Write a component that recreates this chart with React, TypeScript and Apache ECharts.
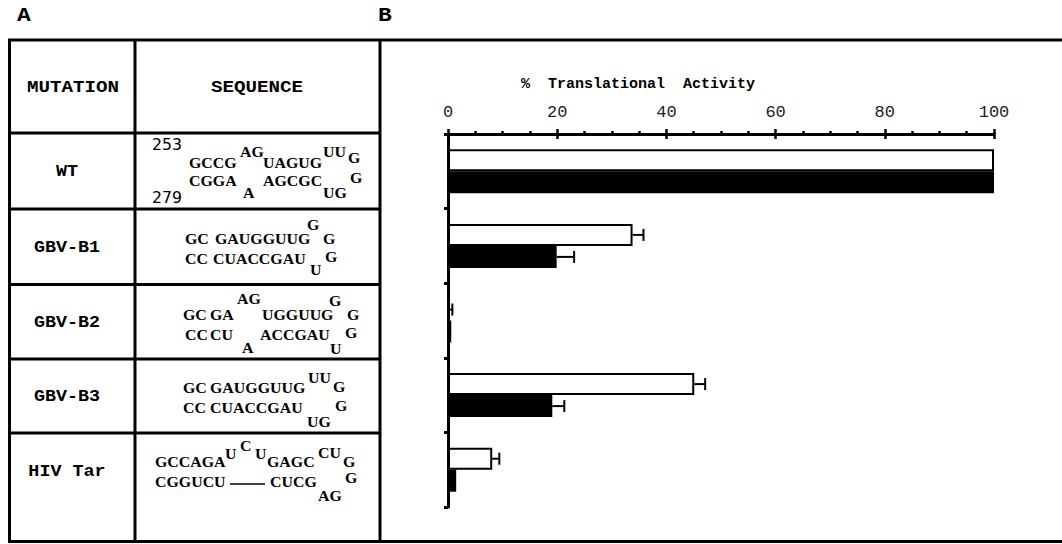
import React, { useEffect, useRef } from "react";
import * as echarts from "echarts";

// ---------- data ----------
const categories = ["WT", "GBV-B1", "GBV-B2", "GBV-B3", "HIV Tar"];
const openValues = [100, 33.8, 0.3, 45.1, 8.1];
const openErrors = [0, 2.0, 0.5, 2.0, 1.3];
const filledValues = [100, 19.9, 0.6, 19.1, 1.5];
const filledErrors = [0, 3.2, 0, 2.2, 0];
const axisTitle = "%  Translational  Activity";
const panelLabels = ["A", "B"];
const headers = ["MUTATION", "SEQUENCE"];

// sequence fragments of each stem-loop (text only)
const seqWT = ["253", "GCCG", "AG", "UAGUG", "UU", "G", "CGGA", "A", "AGCGC", "UG", "G", "279"];
const seqB1 = ["G", "GC", "GAUGGUUG", "G", "CC", "CUACCGAU", "U", "G"];
const seqB2 = ["AG", "G", "GC", "GA", "UGGUUG", "G", "CC", "CU", "A", "ACCGAU", "U", "G"];
const seqB3 = ["GC", "GAUGGUUG", "UU", "G", "CC", "CUACCGAU", "UG", "G"];
const seqHIV = ["GCCAGA", "U", "C", "U", "GAGC", "CU", "G", "CGGUCU", "CUCG", "AG", "G"];

// ---------- layout (positions of the table texts) ----------
const posWT = [[152, 145], [189, 162.5], [240, 152], [263, 162.5], [323, 152], [348, 158], [189, 181], [243, 193], [263, 181], [323, 193], [350, 178], [152, 198.5]];
const posB1 = [[307, 224.7], [185, 238.7], [215, 238.7], [323, 238.7], [185, 259], [213, 259], [310, 270], [325, 256.7]];
const posB2 = [[237, 299], [329, 301], [183, 314.7], [210, 314.7], [262, 314.7], [347, 314.7], [185, 334.7], [210, 334.7], [242, 348], [260, 334.7], [330, 349], [345, 333]];
const posB3 = [[183, 388], [210, 388], [308, 377.5], [333, 386.7], [183, 408], [210, 408], [307, 421.3], [335, 405.3]];
const posHIV = [[155, 461.3], [225, 453.8], [240, 445.5], [255, 453.8], [267, 461.3], [318, 452.8], [343, 461.3], [155, 481.3], [270, 481.3], [318, 495.3], [345, 478]];
const rowLabelY = [172, 248, 322.5, 396.5, 471.5];

const MONO = "'Liberation Mono', monospace";
const SERIF = "'Liberation Serif', serif";
const BAR_W = 22;

function txt(text: string, x: number, y: number, font: string, align = "left", scaleX = 1, fill = "#000") {
  return {
    type: "text",
    x,
    y,
    scaleX,
    style: { text, font, fill, align, verticalAlign: "middle" },
    silent: true,
  };
}

function ln(x1: number, y1: number, x2: number, y2: number, w = 3) {
  return {
    type: "line",
    shape: { x1, y1, x2, y2 },
    style: { stroke: "#000", lineWidth: w },
    silent: true,
  };
}

function seqTexts(frags: string[], pos: number[][]) {
  return frags.map((f, i) => {
    const isNum = /^[0-9]+$/.test(f);
    return isNum
      ? txt(f, pos[i][0], pos[i][1], "15px 'DejaVu Sans'", "left", 1.05)
      : txt(f, pos[i][0], pos[i][1], `bold 15px ${SERIF}`, "left", 1.06);
  });
}

function errSeries(vals: number[], errs: number[], offset: number) {
  return {
    type: "custom",
    xAxisIndex: 0,
    yAxisIndex: 0,
    z: 5,
    data: vals.map((v, i) => [v, i, errs[i]]),
    encode: { x: 0, y: 1 },
    renderItem: (params: any, api: any) => {
      const v = api.value(0);
      const c = api.value(1);
      const e = api.value(2);
      if (!e) return { type: "group", children: [] };
      const a = api.coord([v, c]);
      const b = api.coord([v + e, c]);
      const y = a[1] + offset;
      return {
        type: "group",
        children: [
          { type: "line", shape: { x1: a[0], y1: y, x2: b[0], y2: y }, style: { stroke: "#000", lineWidth: 2 } },
          { type: "line", shape: { x1: b[0], y1: y - 6, x2: b[0], y2: y + 6 }, style: { stroke: "#000", lineWidth: 2 } },
        ],
      };
    },
  };
}

export default function App() {
  const ref = useRef<HTMLDivElement>(null);

  useEffect(() => {
    if (!ref.current) return;
    const chart = echarts.init(ref.current, undefined, { renderer: "svg" });

    const graphics: any[] = [];
    // frame
    graphics.push(ln(8, 40, 1062, 40));
    graphics.push(ln(8, 541.5, 1062, 541.5));
    graphics.push(ln(9.5, 40, 9.5, 541.5));
    graphics.push(ln(135, 40, 135, 541.5));
    graphics.push(ln(380, 40, 380, 541.5));
    [133, 209, 284.5, 359, 433].forEach((y) => graphics.push(ln(9.5, y, 380, y)));
    // panel letters
    graphics.push(txt(panelLabels[0], 24, 15, `bold 20px ${MONO}`, "center", 1.15));
    graphics.push(txt(panelLabels[1], 385, 15, `bold 20px ${MONO}`, "center", 1.15));
    // headers
    graphics.push(txt(headers[0], 73, 87, `bold 16px ${MONO}`, "center", 1.2));
    graphics.push(txt(headers[1], 257, 87, `bold 16px ${MONO}`, "center", 1.2));
    // row labels
    categories.forEach((c, i) => graphics.push(txt(c, 67, rowLabelY[i], `bold 16px ${MONO}`, "center", 1.15)));
    // sequences
    graphics.push(...seqTexts(seqWT, posWT));
    graphics.push(...seqTexts(seqB1, posB1));
    graphics.push(...seqTexts(seqB2, posB2));
    graphics.push(...seqTexts(seqB3, posB3));
    graphics.push(...seqTexts(seqHIV, posHIV));
    graphics.push(ln(230, 484, 265, 484, 1.5));
    // axis title
    graphics.push(txt(axisTitle, 521, 84, `bold 15px ${MONO}`, "left"));

    const option: any = {
      animation: false,
      backgroundColor: "#fff",
      grid: { left: 448, right: 68, top: 134, bottom: 37, containLabel: false },
      xAxis: [
        {
          type: "value",
          position: "top",
          min: 0,
          max: 100,
          interval: 20,
          axisLine: { show: true, lineStyle: { color: "#000", width: 3 } },
          axisTick: { show: true, length: 5, lineStyle: { color: "#000", width: 2.5 } },
          minorTick: { show: true, splitNumber: 4, length: 3, lineStyle: { color: "#000", width: 2.5 } },
          axisLabel: { margin: 13, fontFamily: "'Liberation Mono', monospace", fontSize: 17, color: "#222" },
          splitLine: { show: false },
        },
        {
          type: "value",
          position: "top",
          min: 0,
          max: 100,
          interval: 20,
          axisLine: { show: false },
          axisTick: { show: true, inside: true, length: 5, lineStyle: { color: "#000", width: 2.5 } },
          axisLabel: { show: false },
          splitLine: { show: false },
        },
      ],
      yAxis: {
        type: "category",
        data: categories,
        inverse: true,
        axisLine: { show: true, lineStyle: { color: "#000", width: 3 } },
        axisTick: { show: true, length: 4, lineStyle: { color: "#000", width: 3 } },
        axisLabel: { show: false },
        splitLine: { show: false },
      },
      series: [
        {
          name: "open",
          type: "bar",
          data: openValues,
          barWidth: BAR_W,
          barGap: "0%",
          itemStyle: { color: "#fff", borderColor: "#000", borderWidth: 2 },
        },
        {
          name: "filled",
          type: "bar",
          data: filledValues,
          barWidth: BAR_W,
          barGap: "0%",
          itemStyle: { color: "#000" },
        },
        errSeries(openValues, openErrors, -BAR_W / 2),
        errSeries(filledValues, filledErrors, BAR_W / 2),
      ],
      graphic: graphics,
    };
    chart.setOption(option);
    return () => chart.dispose();
  }, []);

  return (
    <div
      ref={ref}
      style={{ position: "fixed", left: 0, top: 0, width: 1062, height: 544, background: "#fff" }}
    />
  );
}
